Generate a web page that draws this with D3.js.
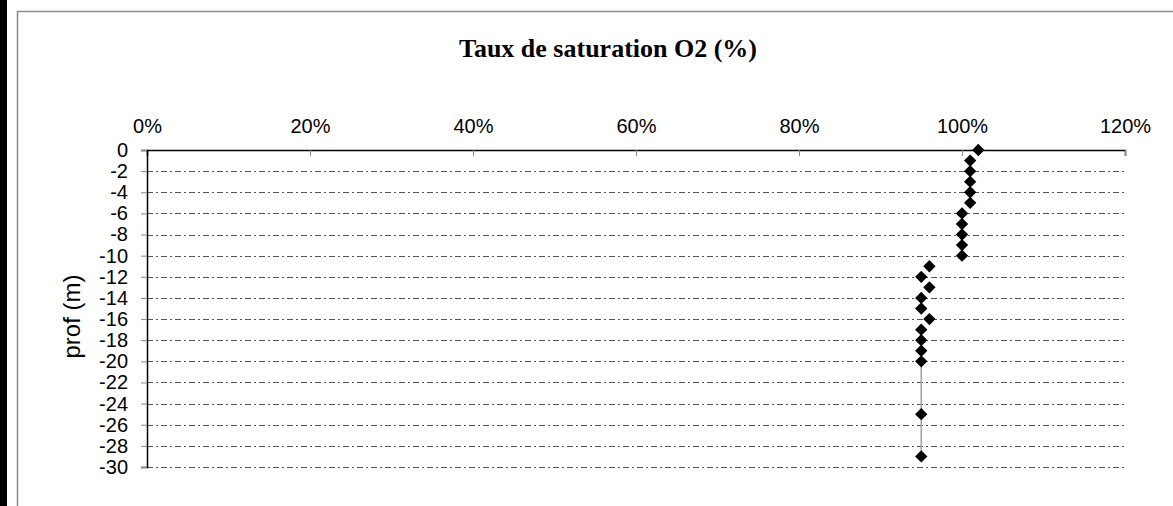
<!DOCTYPE html>
<html>
<head>
<meta charset="utf-8">
<script src="https://cdn.jsdelivr.net/npm/d3@7"></script>
<style>
  body { margin: 0; background: #fff; }
  svg { display: block; }
</style>
</head>
<body>
<svg id="chart" width="1173" height="506"></svg>
<script>
// données
const depths = [0, -1, -2, -3, -4, -5, -6, -7, -8, -9, -10, -11, -12, -13, -14, -15, -16, -17, -18, -19, -20, -25, -29]
const saturation = [1.02, 1.01, 1.01, 1.01, 1.01, 1.01, 1.00, 1.00, 1.00, 1.00, 1.00, 0.96, 0.95, 0.96, 0.95, 0.95, 0.96, 0.95, 0.95, 0.95, 0.95, 0.95, 0.95]
const xTicks = [0, 0.2, 0.4, 0.6, 0.8, 1.0, 1.2]
const yTicks = [0, -2, -4, -6, -8, -10, -12, -14, -16, -18, -20, -22, -24, -26, -28, -30]
const title = 'Taux de saturation O2 (%)'
const yTitle = 'prof (m)'

const svg = d3.select('#chart')

// cadre
svg.append('rect').attr('x', 0).attr('y', 0).attr('width', 7).attr('height', 506).attr('fill', '#000')
svg.append('path')
    .attr('d', 'M17.5,506 V11.5 H1173')
    .attr('fill', 'none')
    .attr('stroke', '#8c8c8c')
    .attr('stroke-width', 1.5)

const x = d3.scaleLinear().domain([0, 1.2]).range([147, 1125])
const y = d3.scaleLinear().domain([-30, 0]).range([467, 150])

// grille horizontale (tirets-points)
svg.append('g')
    .selectAll('line')
    .data(yTicks.filter(d => d !== 0))
    .join('line')
    .attr('x1', x(0)).attr('x2', x(1.2))
    .attr('y1', d => Math.round(y(d)) + 0.5).attr('y2', d => Math.round(y(d)) + 0.5)
    .attr('stroke', '#555')
    .attr('stroke-width', 1)
    .attr('stroke-dasharray', '6,3,2,3')

// axe x en haut
const xAxis = svg.append('g')
    .attr('transform', `translate(0,${y(0)})`)
    .call(d3.axisTop(x).tickValues(xTicks).tickSize(-6).tickPadding(0).tickFormat(d => Math.round(d * 100) + '%'))
xAxis.select('.domain').attr('stroke', '#000').attr('stroke-width', 1.5)
xAxis.selectAll('.tick line').attr('stroke', '#888')
xAxis.selectAll('.tick text')
    .attr('y', -17)
    .attr('font-family', 'Liberation Sans, Arial, sans-serif')
    .attr('font-size', 20)
    .attr('fill', '#000')

// axe y (tiret simple comme dans Excel)
const yAxis = svg.append('g')
    .attr('transform', `translate(${x(0)},0)`)
    .call(d3.axisLeft(y).tickValues(yTicks).tickSize(6).tickPadding(13).tickFormat(d => String(d)))
yAxis.select('.domain').attr('stroke', '#000').attr('stroke-width', 1.5)
yAxis.selectAll('.tick line').attr('stroke', '#888')
yAxis.selectAll('.tick text')
    .attr('font-family', 'Liberation Sans, Arial, sans-serif')
    .attr('font-size', 20)
    .attr('fill', '#000')

// titre
svg.append('text')
    .attr('x', 608).attr('y', 57)
    .attr('text-anchor', 'middle')
    .attr('font-family', 'Liberation Serif, Times New Roman, serif')
    .attr('font-weight', 'bold')
    .attr('font-size', 26)
    .text(title)

svg.append('text')
    .attr('transform', `translate(80,${(y(0) + y(-30)) / 2 + 8}) rotate(-90)`)
    .attr('text-anchor', 'middle')
    .attr('font-family', 'Liberation Sans, Arial, sans-serif')
    .attr('font-size', 24)
    .text(yTitle)

// série : trait gris visible seulement entre points de même valeur
const pts = depths.map((d, i) => ({depth: d, value: saturation[i]}))
const segs = d3.pairs(pts).filter(([a, b]) => a.value === b.value)
svg.append('g')
    .selectAll('line')
    .data(segs)
    .join('line')
    .attr('x1', d => x(d[0].value)).attr('y1', d => y(d[0].depth))
    .attr('x2', d => x(d[1].value)).attr('y2', d => y(d[1].depth))
    .attr('stroke', '#a0a0a0')
    .attr('stroke-width', 1.5)

const diamond = d3.symbol().type(d3.symbolSquare).size(76)
svg.append('g')
    .selectAll('path')
    .data(pts)
    .join('path')
    .attr('transform', d => `translate(${x(d.value)},${y(d.depth)}) rotate(45)`)
    .attr('d', diamond)
    .attr('fill', '#000')
</script>
</body>
</html>
